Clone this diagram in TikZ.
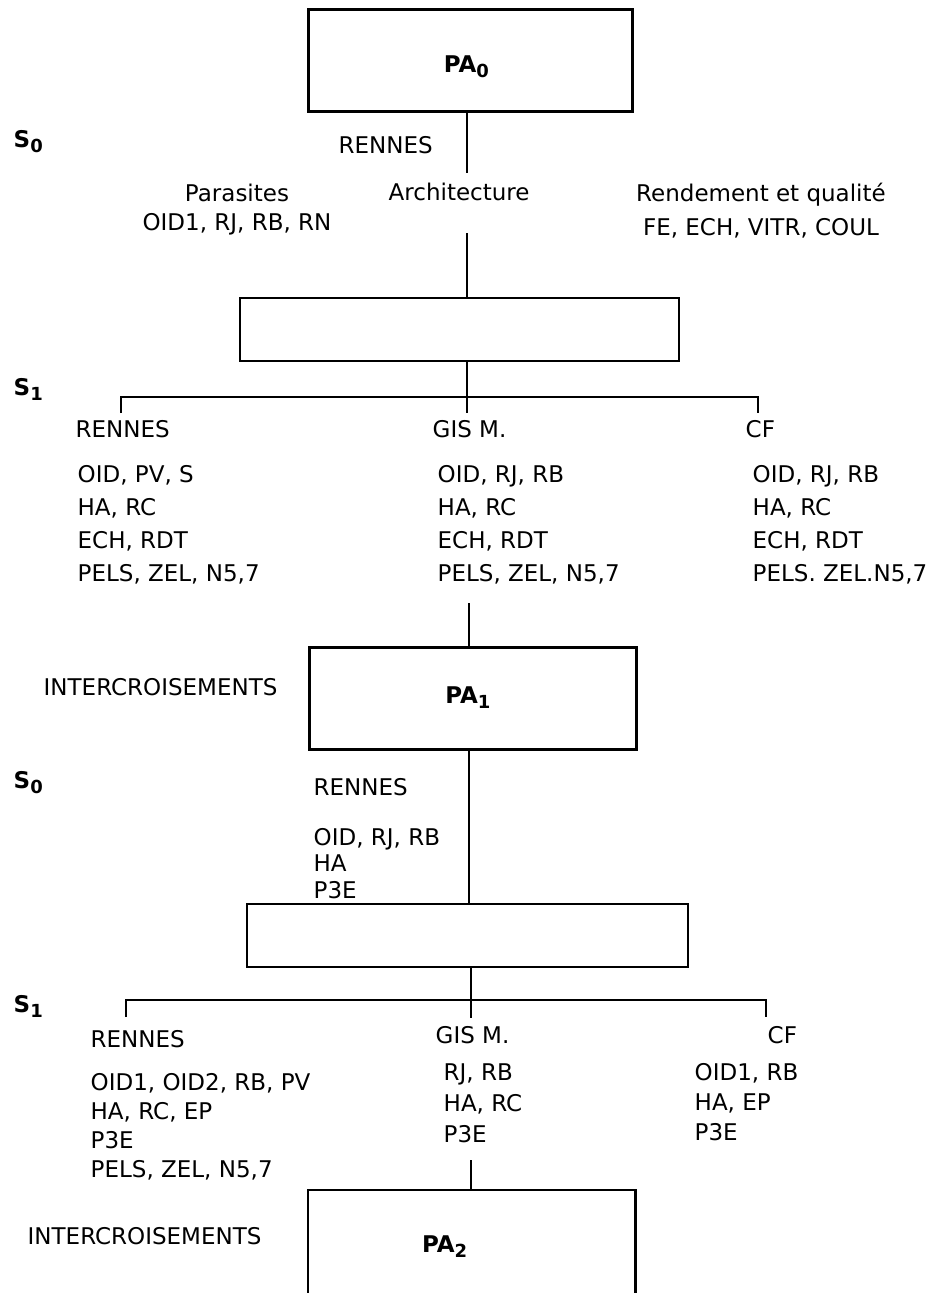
\documentclass[tikz,border=0pt]{standalone}
\usepackage{fontspec}
\setmainfont{DejaVu Sans}
\usepackage{tikz}
\newcommand\lowidx[1]{\raisebox{-5.5pt}{\fontsize{18}{18}\selectfont#1}}

\begin{document}
\begin{tikzpicture}[x=1pt,y=-1pt,line width=1.4pt,font=\fontsize{23}{33}\selectfont,
  pabox/.style={draw,line width=2.8pt,anchor=north west,inner sep=0pt},
  selbox/.style={draw,line width=1.7pt,anchor=north west,inner sep=0pt},
  txt/.style={anchor=base west,inner sep=0pt,align=left},
  mid/.style={anchor=base,inner sep=0pt,align=center},
  pa/.style={anchor=base,inner sep=0pt,font=\fontsize{23}{23}\selectfont\bfseries},
  gen/.style={anchor=base west,inner sep=0pt,font=\fontsize{23}{23}\selectfont\bfseries}]
\useasboundingbox (0,0) rectangle (935,1293);
\node[pabox,minimum width=324pt,minimum height=102pt] (pa0) at (307,8) {};
\node[selbox,minimum width=439pt,minimum height=63pt] (sel0) at (239,297) {};
\node[pabox,minimum width=327pt,minimum height=102pt] (pa1) at (308,646) {};
\node[selbox,minimum width=441pt,minimum height=63pt] (sel1) at (246,903) {};
\node[anchor=north west,inner sep=0pt,minimum width=326pt,minimum height=103pt] (pa2) at (308,1190) {};
\draw[line width=2.8pt] (pa2.south west) |- (pa2.north east) -- (pa2.south east);
\node[pa] (pa0t) at ([xshift=-4pt,yshift=-64pt]pa0.north) {PA\lowidx{0}};
\node[pa] (pa1t) at ([xshift=-5pt,yshift=-57pt]pa1.north) {PA\lowidx{1}};
\node[pa] (pa2t) at ([xshift=-27pt,yshift=-62pt]pa2.north) {PA\lowidx{2}};
\coordinate (r0) at (467,173); \coordinate (r0b) at (467,233);
\draw (pa0.south -| r0) -- (r0); \draw (r0b) -- (r0b |- sel0.north);
\coordinate (k0l) at (121,413); \coordinate (k0r) at (758,413); \coordinate (k0m) at (467,413);
\draw (sel0.south -| k0m) -- (k0m); \draw (k0l) -- ++(0,-16) -| (k0r);
\coordinate (r1) at (469,603);
\draw (r1) -- (r1 |- pa1.north); \draw (pa1.south -| r1) -- (r1 |- sel1.north);
\coordinate (k1l) at (126,1017); \coordinate (k1r) at (766,1017); \coordinate (k1m) at (471,1018);
\draw (sel1.south -| k1m) -- (k1m); \draw (k1l) -- ++(0,-17) -| (k1r);
\coordinate (r2) at (471,1160);
\draw (r2) -- (r2 |- pa2.north);
\node[gen] (s0a) at (13,147) {S\lowidx{0}};
\node[txt] (ren0) at (338,153) {RENNES};
\node[mid,font=\fontsize{23}{29}\selectfont] (paras) at (237,230) {Parasites\\OID1, RJ, RB, RN};
\node[txt] (archi) at (388,200) {Architecture};
\node[mid,font=\fontsize{23}{34}\selectfont] (rend) at (761,235) {Rendement et qualité\\FE, ECH, VITR, COUL};
\node[gen] (s1a) at (13,395) {S\lowidx{1}};
\node[txt] (ren1) at (75,437) {RENNES}; \node[txt] (gis1) at (432,437) {GIS M.}; \node[txt] (cf1) at (745,437) {CF};
\node[txt] (ren1l) at (77,581) {OID, PV, S\\HA, RC\\ECH, RDT\\PELS, ZEL, N5,7};
\node[txt] (gis1l) at (437,581) {OID, RJ, RB\\HA, RC\\ECH, RDT\\PELS, ZEL, N5,7};
\node[txt] (cf1l) at (752,581) {OID, RJ, RB\\HA, RC\\ECH, RDT\\PELS. ZEL.N5,7};
\node[txt] (inter1) at (43,695) {INTERCROISEMENTS};
\node[gen] (s0b) at (13,788) {S\lowidx{0}};
\node[txt] (ren2) at (313,795) {RENNES};
\node[txt,font=\fontsize{23}{26.5}\selectfont] (ren2l) at (313,898) {OID, RJ, RB\\HA\\P3E};
\node[gen] (s1b) at (13,1012) {S\lowidx{1}};
\node[txt] (ren3) at (90,1047) {RENNES}; \node[txt] (gis3) at (435,1043) {GIS M.}; \node[txt] (cf3) at (767,1043) {CF};
\node[txt,font=\fontsize{23}{29}\selectfont] (ren3l) at (90,1177) {OID1, OID2, RB, PV\\HA, RC, EP\\P3E\\PELS, ZEL, N5,7};
\node[txt,font=\fontsize{23}{31}\selectfont] (gis3l) at (443,1142) {RJ, RB\\HA, RC\\P3E};
\node[txt,font=\fontsize{23}{30}\selectfont] (cf3l) at (694,1140) {OID1, RB\\HA, EP\\P3E};
\node[txt] (inter2) at (27,1244) {INTERCROISEMENTS};
\end{tikzpicture}
\end{document}
